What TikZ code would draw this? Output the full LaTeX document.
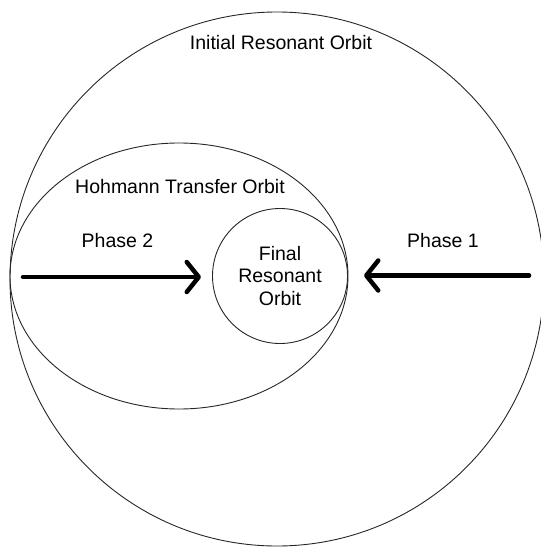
\documentclass[tikz,border=0pt]{standalone}
\usepackage{fontspec}
\setmainfont{Liberation Sans}
\usetikzlibrary{arrows.meta}

\begin{document}
\begin{tikzpicture}[x=1pt, y=-1pt,
    orbit/.style={draw=black!85, line width=0.9pt},
    label/.style={inner sep=0pt, font=\fontsize{19.5}{22.5}\selectfont},
    phase/.style={line width=4.5pt, line cap=round,
      -{Straight Barb[length=12pt,width=30pt,round]}}]
      \useasboundingbox (0, 0) rectangle (540, 548);

      \draw[orbit] (277, 279) circle[radius=267pt];
      \draw[orbit] (179, 276) ellipse[x radius=169pt, y radius=133pt];
      \node[orbit, circle, minimum size=135pt, inner sep=0pt, align=center,
        font=\fontsize{19.5}{22.5}\selectfont] (final) at (280, 276) {Final\\Resonant\\Orbit};

      \node[label] (initial) at (281, 43) {Initial Resonant Orbit};
      \node[label] (hohmann) at (180, 187) {Hohmann Transfer Orbit};
      \node[label] (phase2) at (117.5, 241) {Phase 2};
      \node[label] (phase1) at (443, 241) {Phase 1};

      \coordinate (p2tail) at (23, 277);
      \coordinate (p2head) at (201, 277);
      \coordinate (p1tail) at (529, 275.5);
      \coordinate (p1head) at (364, 275.5);
      \draw[phase] (p2tail) -- (p2head);
      \draw[phase] (p1tail) -- (p1head);
    \end{tikzpicture}
\end{document}
